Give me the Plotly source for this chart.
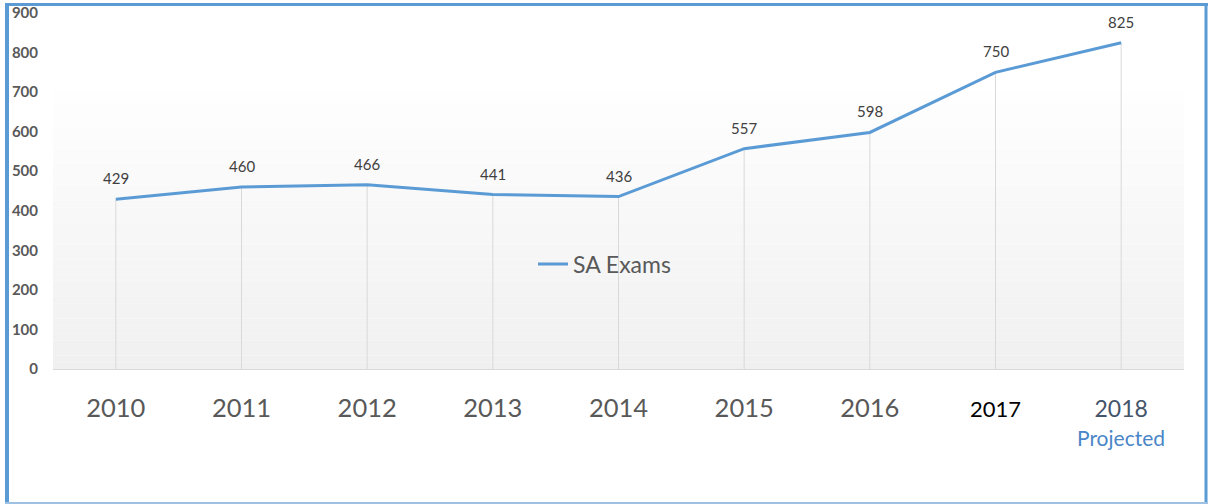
import plotly.graph_objects as go

years = ["2010", "2011", "2012", "2013", "2014", "2015", "2016", "2017", "2018"]
exams = [429, 460, 466, 441, 436, 557, 598, 750, 825]
series_name = "SA Exams"
projected_note = "Projected"
y_ticks = [0, 100, 200, 300, 400, 500, 600, 700, 800, 900]

W, H = 1209, 504
L, R, T, B = 53, 25, 13, 135
pw, ph = W - L - R, H - T - B

def px_x(p):
    return (p - L) / pw

def px_y(p):
    return (H - B - p) / ph

xs = list(range(len(years)))

tick_text = []
for i, yv in enumerate(years):
    if yv == "2017":
        tick_text.append("<span style='font-size:22px;color:#000000'>" + yv + "</span>")
    elif yv == "2018":
        tick_text.append("<span style='font-size:23px;color:#44546A'>" + yv + "</span>")
    else:
        tick_text.append(yv)

fig = go.Figure()

# drop lines from each point to the axis
dx, dy = [], []
for x, v in zip(xs, exams):
    dx += [x, x, None]
    dy += [0, v, None]
fig.add_trace(go.Scatter(x=dx, y=dy, mode="lines", line=dict(color="#d9d9d9", width=1),
                         showlegend=False, hoverinfo="skip"))

fig.add_trace(go.Scatter(x=xs, y=exams, mode="lines", name=series_name,
                         line=dict(color="#5B9BD5", width=3)))

for x, v in zip(xs, exams):
    fig.add_annotation(x=x, y=v, text=str(v), showarrow=False, yshift=21,
                       font=dict(family="Lato", size=15, color="#404040"))

# "Projected" note under the last category label
fig.add_annotation(x=xs[-1], xref="x", y=px_y(437), yref="paper", yanchor="middle",
                   text=projected_note, showarrow=False,
                   font=dict(family="Lato", size=21, color="#4A86C8"))

shapes = []
# gradient background
n = 40
g_top, g_bot = px_y(75), px_y(370)
for k in range(n):
    y0 = g_bot + (g_top - g_bot) * k / n
    y1 = g_bot + (g_top - g_bot) * (k + 1) / n
    t = k / (n - 1)
    c = int(round(240 + (255 - 240) * t))
    shapes.append(dict(type="rect", xref="paper", yref="paper", x0=0, x1=1, y0=y0, y1=y1,
                       fillcolor=f"rgb({c},{c},{c})", line=dict(width=0), layer="below"))
# frame
blue = "#5B9BD5"
shapes.append(dict(type="line", xref="paper", yref="paper", x0=px_x(7), x1=px_x(7),
                   y0=px_y(3), y1=px_y(504), line=dict(color=blue, width=4)))
shapes.append(dict(type="line", xref="paper", yref="paper", x0=px_x(5), x1=px_x(1208),
                   y0=px_y(4.5), y1=px_y(4.5), line=dict(color=blue, width=3)))
shapes.append(dict(type="line", xref="paper", yref="paper", x0=px_x(1206), x1=px_x(1206),
                   y0=px_y(3), y1=px_y(504), line=dict(color=blue, width=3)))
shapes.append(dict(type="line", xref="paper", yref="paper", x0=px_x(5), x1=px_x(1208),
                   y0=px_y(503), y1=px_y(503), line=dict(color="#9DC0E3", width=2)))

fig.update_layout(
    width=W, height=H,
    margin=dict(l=L, r=R, t=T, b=B, autoexpand=False),
    paper_bgcolor="white", plot_bgcolor="rgba(0,0,0,0)",
    font=dict(family="Lato", color="#595959"),
    shapes=shapes,
    showlegend=True,
    legend=dict(x=px_x(533), y=px_y(264), xanchor="left", yanchor="middle",
                bgcolor="rgba(0,0,0,0)", font=dict(family="Lato", size=23, color="#595959")),
    xaxis=dict(range=[-0.5, 8.5], tickmode="array", tickvals=xs, ticktext=tick_text,
               showgrid=False, zeroline=False, showline=True, linecolor="#d9d9d9", linewidth=1,
               ticks="", ticklabelstandoff=16, automargin=False,
               tickfont=dict(family="Lato", size=25.5, color="#595959")),
    yaxis=dict(range=[0, 900], tickmode="array", tickvals=y_ticks,
               showgrid=False, zeroline=False, showline=False, ticks="",
               ticklabelstandoff=14, automargin=False,
               tickfont=dict(family="Lato", size=15, color="#595959", weight="bold")),
)

fig.write_html("out.html", config={"displayModeBar": False},
               post_script="document.body.style.margin='0';")
